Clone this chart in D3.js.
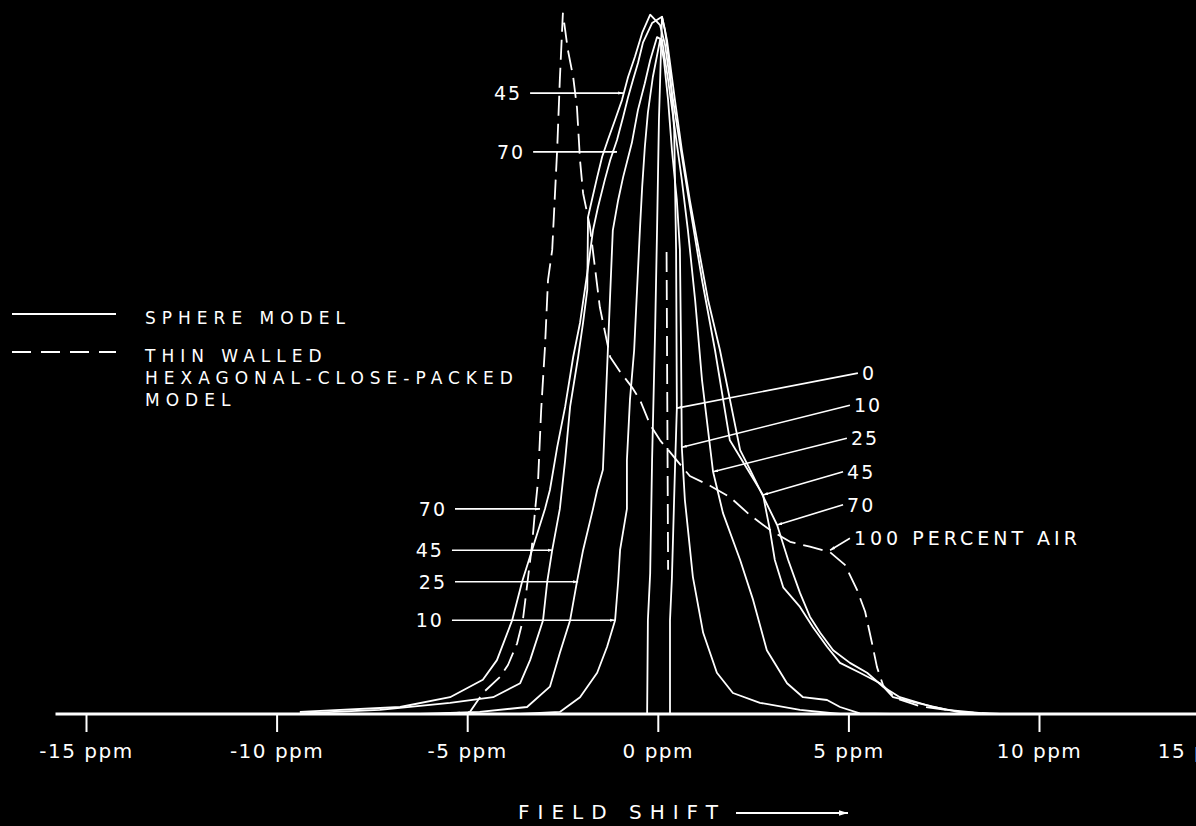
<!DOCTYPE html>
<html>
<head>
<meta charset="utf-8">
<script src="https://cdn.jsdelivr.net/npm/d3@7"></script>
<style>
    body { margin: 0; background: #000; }
    svg { display: block; }
</style>
</head>
<body>
<div id="chart"></div>
<script>
// [field shift (ppm), signal (arbitrary, peak = 100)]
const sphere0 = [[-2.57, 0], [-0.28, 0], [-0.26, 13.4], [-0.20, 20.1], [-0.15, 36.3], [-0.07, 54.9], [-0.02, 69.1], [0.03, 84.9], [0.11, 99.6],
    [0.19, 97.7], [0.32, 92.0], [0.43, 83.4], [0.48, 66.3], [0.50, 43.7], [0.45, 34.9], [0.37, 19.4], [0.32, 13.4], [0.32, 0], [2.68, 0]];
const sphere10 = [[-3.61, 0], [-2.57, 0.3], [-2.04, 2.4], [-1.59, 5.9], [-1.33, 9.6], [-1.12, 13.4], [-1.04, 18.9], [-0.99, 23.4], [-0.81, 29.3],
    [-0.81, 36.3], [-0.73, 44.9], [-0.62, 52.0], [-0.47, 69.1], [-0.41, 75.3], [-0.34, 81.0], [-0.26, 85.9], [-0.13, 91.0], [0.06, 96.3],
    [0.16, 93.4], [0.27, 87.7], [0.37, 80.6], [0.50, 73.4], [0.58, 66.3], [0.61, 52.0], [0.63, 38.1], [0.71, 30.6], [0.92, 19.6], [1.19, 11.6],
    [1.55, 5.9], [1.97, 3.0], [2.68, 1.6], [3.73, 0.6], [4.78, 0]];
const sphere25 = [[-6.24, 0], [-4.67, 0.3], [-3.43, 1.0], [-2.83, 3.9], [-2.57, 8.7], [-2.30, 13.4], [-2.12, 18.9], [-1.96, 23.4], [-1.70, 29.3],
    [-1.59, 32.0], [-1.44, 34.9], [-1.31, 52.0], [-1.18, 69.1], [-1.04, 73.4], [-0.91, 76.7], [-0.68, 81.6], [-0.52, 86.3], [-0.34, 90.1],
    [-0.20, 93.4], [-0.02, 96.7], [0.11, 96.3], [0.27, 90.6], [0.45, 83.4], [0.63, 76.3], [0.79, 69.1], [0.98, 59.1], [1.16, 47.7], [1.45, 34.6],
    [1.71, 28.7], [2.16, 22.0], [2.50, 16.3], [2.86, 9.1], [3.39, 4.4], [3.81, 2.4], [4.44, 2.0], [4.78, 1.0], [5.30, 0.1], [6.10, 0]];
const sphere45 = [[-9.39, 0.1], [-7.29, 0.6], [-5.45, 1.6], [-4.32, 2.4], [-3.61, 4.4], [-3.35, 7.7], [-3.01, 13.4], [-2.90, 18.9], [-2.77, 23.4],
    [-2.57, 29.3], [-2.43, 36.3], [-2.30, 43.9], [-2.09, 51.0], [-1.96, 55.9], [-1.85, 60.6], [-1.83, 71.0], [-1.73, 73.4], [-1.59, 76.7],
    [-1.46, 79.6], [-1.31, 82.0], [-1.12, 84.9], [-0.94, 87.7], [-0.78, 91.0], [-0.60, 93.9], [-0.41, 97.3], [-0.20, 99.9], [0.06, 98.4],
    [0.19, 95.6], [0.32, 90.6], [0.48, 84.9], [0.69, 77.7], [0.90, 70.6], [1.16, 62.0], [1.50, 52.0], [1.89, 39.1], [2.36, 34.9], [2.76, 31.3],
    [2.94, 26.3], [3.07, 22.0], [3.29, 18.1], [3.73, 15.3], [4.07, 12.4], [4.44, 9.6], [4.78, 7.3], [5.30, 5.9], [5.83, 4.4], [6.17, 2.4],
    [6.80, 1.6], [7.59, 0.6], [8.70, 0]];
const sphere70 = [[-9.39, 0.3], [-6.76, 1.0], [-5.45, 2.4], [-4.59, 4.9], [-4.22, 7.7], [-3.82, 13.4], [-3.56, 18.9], [-3.30, 23.4], [-2.96, 29.3],
    [-2.83, 32.0], [-2.64, 38.1], [-2.43, 43.9], [-2.22, 51.0], [-2.04, 55.9], [-1.85, 63.0], [-1.70, 69.1], [-1.57, 72.4], [-1.39, 76.3],
    [-1.25, 79.1], [-1.07, 82.0], [-0.91, 85.3], [-0.78, 88.1], [-0.65, 90.6], [-0.52, 93.0], [-0.39, 95.9], [-0.15, 98.7], [0.11, 99.6],
    [0.24, 96.3], [0.45, 87.7], [0.63, 80.6], [0.84, 73.4], [1.03, 67.7], [1.32, 59.1], [1.63, 52.0], [2.16, 37.7], [2.42, 34.9], [3.13, 27.0],
    [3.42, 22.0], [3.73, 17.3], [3.99, 13.9], [4.26, 11.6], [4.60, 9.1], [5.04, 7.3], [5.49, 5.9], [5.91, 3.9], [6.35, 2.4], [7.22, 1.0],
    [8.11, 0.1], [8.98, 0]];
const hexagonal100 = [[-5.71, 0], [-4.93, 0.3], [-4.59, 3.0], [-4.14, 5.3], [-3.93, 7.0], [-3.69, 10.1], [-3.54, 13.4], [-3.30, 24.1], [-3.22, 29.1],
    [-3.14, 33.4], [-3.06, 43.4], [-2.96, 52.4], [-2.88, 62.0], [-2.77, 66.3], [-2.64, 80.6], [-2.57, 90.6], [-2.49, 100.1], [-2.36, 94.9],
    [-2.22, 91.0], [-2.12, 86.6], [-2.04, 79.1], [-1.96, 74.4], [-1.78, 69.6], [-1.52, 58.1], [-1.25, 51.0], [-0.99, 48.9], [-0.68, 46.7],
    [-0.47, 44.9], [-0.20, 41.3], [0.06, 39.1], [0.32, 37.4], [0.84, 34.0], [1.37, 32.6], [1.89, 31.0], [2.42, 28.4], [2.94, 26.3], [3.47, 24.6],
    [3.99, 23.9], [4.52, 23.1], [4.91, 21.3], [5.23, 17.7], [5.44, 14.6], [5.62, 10.1], [5.75, 6.7], [5.91, 4.1], [6.22, 2.3], [6.88, 1.1],
    [7.93, 0.3], [8.98, 0]];
const hexagonal0 = [[0.23, 66.0], [0.27, 20.6]];

const tickValues = [-15, -10, -5, 0, 5, 10, 15];
const tickLabels = ["-15 ppm", "-10 ppm", "-5 ppm", "0 ppm", "5 ppm", "10 ppm", "15 ppm"];

// labels: text, where the leader starts, where it points to (ppm, signal)
const leftLabels = ["45", "70", "70", "45", "25", "10"];
const leftFrom = [[-3.35, 88.7], [-3.27, 80.3], [-5.32, 29.3], [-5.40, 23.4], [-5.32, 18.9], [-5.40, 13.4]];
const leftTo = [[-0.91, 88.7], [-1.07, 80.3], [-3.09, 29.3], [-2.75, 23.4], [-2.09, 18.9], [-1.12, 13.4]];
const rightLabels = ["0", "10", "25", "45", "70", "100 PERCENT AIR"];
const rightFrom = [[5.25, 48.7], [5.04, 44.1], [4.96, 39.4], [4.86, 34.6], [4.86, 29.9], [5.04, 25.1]];
const rightTo = [[0.50, 43.7], [0.63, 38.1], [1.45, 34.6], [2.76, 31.3], [3.13, 27.0], [4.52, 23.4]];

const legendItems = [
    { lines: ["SPHERE MODEL"], dashed: false },
    { lines: ["THIN WALLED", "HEXAGONAL-CLOSE-PACKED", "MODEL"], dashed: true },
];

function draw_chart() {
    const config = {
        width: 1196,
        height: 826,
        baseY: 714,
        topY: 14,
        color: 'white',
        lineWidth: 1.8,
        dash: '20,8',
        font: "'DejaVu Sans', sans-serif",
    };
    const svg = d3.select("#chart")
        .append("svg")
        .attr("width", config.width)
        .attr("height", config.height)
        .style("background", "#000");

    const defs = svg.append("defs");
    [["tip", 5], ["tipBig", 9]].forEach(([id, size]) => {
        defs.append("marker")
            .attr("id", id)
            .attr("viewBox", "0 0 10 10")
            .attr("refX", 10).attr("refY", 5)
            .attr("markerWidth", size).attr("markerHeight", size)
            .attr("markerUnits", "userSpaceOnUse")
            .attr("orient", "auto")
            .append("path")
            .attr("d", "M0,2L10,5L0,8z")
            .attr("fill", config.color);
    });

    const scale_x = d3.scaleLinear()
        .domain([-15, 10, 15])
        .range([86, 1039, 1200]);
    const scale_y = d3.scaleLinear()
        .domain([0, 100])
        .range([config.baseY, config.topY]);

    // axis
    const axis_bottom = d3.axisBottom(scale_x)
        .tickValues(tickValues)
        .tickFormat((d, i) => tickLabels[i])
        .tickSize(18)
        .tickPadding(12);
    const g_axisX = svg.append("g")
        .attr("transform", `translate(0, ${config.baseY})`)
        .call(axis_bottom);
    g_axisX.select(".domain")
        .attr("d", `M${scale_x(-15.8)},0H${config.width}`)
        .attr("stroke", config.color)
        .attr("stroke-width", 3);
    g_axisX.selectAll(".tick line")
        .attr("stroke", config.color)
        .attr("stroke-width", 2);
    g_axisX.selectAll(".tick text")
        .attr("fill", config.color)
        .style("font-family", config.font)
        .style("font-size", "20px")
        .style("letter-spacing", "1.5px");

    svg.append("text")
        .attr("x", 518)
        .attr("y", 819)
        .attr("fill", config.color)
        .style("font-family", config.font)
        .style("font-size", "20px")
        .style("letter-spacing", "8px")
        .text("FIELD SHIFT");
    svg.append("line")
        .attr("x1", 736).attr("x2", 848)
        .attr("y1", 813).attr("y2", 813)
        .attr("stroke", config.color)
        .attr("stroke-width", 2)
        .attr("marker-end", "url(#tipBig)");

    // curves
    const line = d3.line()
        .x(d => scale_x(d[0]))
        .y(d => scale_y(d[1]));
    const g_curves = svg.append("g")
        .attr("fill", "none")
        .attr("stroke", config.color)
        .attr("stroke-width", config.lineWidth)
        .attr("stroke-linejoin", "round");
    [sphere70, sphere45, sphere25, sphere10, sphere0].forEach(s => {
        g_curves.append("path").attr("d", line(s));
    });
    [hexagonal100, hexagonal0].forEach(s => {
        g_curves.append("path")
            .attr("d", line(s))
            .attr("stroke-dasharray", config.dash);
    });

    // leaders
    const g_labels = svg.append("g");
    function draw_leaders(labels, from, to, side) {
        labels.forEach((t, i) => {
            const x0 = scale_x(from[i][0]), y0 = scale_y(from[i][1]);
            g_labels.append("line")
                .attr("x1", x0).attr("y1", y0)
                .attr("x2", scale_x(to[i][0])).attr("y2", scale_y(to[i][1]))
                .attr("stroke", config.color)
                .attr("stroke-width", 1.6)
                .attr("marker-end", "url(#tip)");
            g_labels.append("text")
                .attr("x", side === "left" ? x0 - 8 : x0 + 4)
                .attr("y", y0)
                .attr("dy", "0.36em")
                .attr("text-anchor", side === "left" ? "end" : "start")
                .attr("fill", config.color)
                .style("font-family", config.font)
                .style("font-size", "19px")
                .style("letter-spacing", t.length > 3 ? "4px" : "2px")
                .text(t);
        });
    }
    draw_leaders(leftLabels, leftFrom, leftTo, "left");
    draw_leaders(rightLabels, rightFrom, rightTo, "right");

    // legend
    const g_legend = svg.append("g").attr("transform", "translate(12, 314)");
    let offset = 0;
    legendItems.forEach(item => {
        g_legend.append("line")
            .attr("x1", 0).attr("x2", 104)
            .attr("y1", offset).attr("y2", offset)
            .attr("stroke", config.color)
            .attr("stroke-width", 2)
            .attr("stroke-dasharray", item.dashed ? "19,10" : null);
        item.lines.forEach((l, k) => {
            g_legend.append("text")
                .attr("x", 133)
                .attr("y", offset + 10 + k * 22)
                .attr("fill", config.color)
                .style("font-family", config.font)
                .style("font-size", "17px")
                .style("letter-spacing", "6px")
                .text(l);
        });
        offset += 38;
    });
}
draw_chart();
</script>
</body>
</html>
